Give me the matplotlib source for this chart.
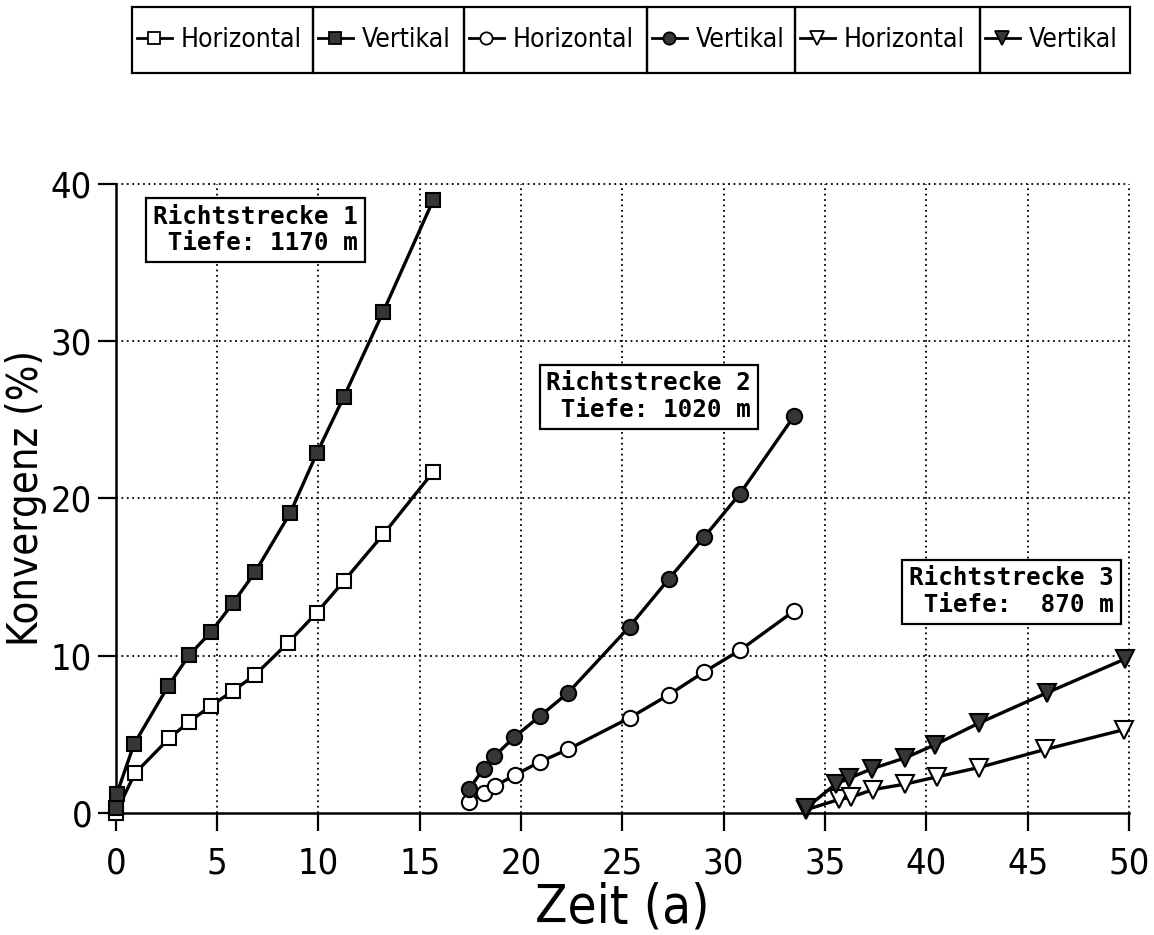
import os
import matplotlib
matplotlib.use("Agg")
import matplotlib.pyplot as plt
from matplotlib import font_manager as fm
from matplotlib.lines import Line2D
from matplotlib.patches import Rectangle

# ---------------- data ----------------
# Richtstrecke 1 (Tiefe 1170 m)
t1_vert = [0.0, 0.05, 0.90, 2.60, 3.63, 4.69, 5.80, 6.89, 8.60, 9.92, 11.26, 13.20, 15.67]
k1_vert = [0.3, 1.2, 4.36, 8.09, 10.04, 11.48, 13.36, 15.33, 19.04, 22.85, 26.45, 31.85, 38.95]
t1_hor = [0.0, 0.95, 2.64, 3.63, 4.69, 5.80, 6.87, 8.51, 9.92, 11.26, 13.20, 15.67]
k1_hor = [0.0, 2.52, 4.75, 5.80, 6.80, 7.77, 8.77, 10.82, 12.73, 14.74, 17.70, 21.68]

# Richtstrecke 2 (Tiefe 1020 m)
t2_vert = [17.45, 18.15, 18.68, 19.65, 20.93, 22.33, 25.36, 27.28, 29.05, 30.81, 33.49]
k2_vert = [1.55, 2.80, 3.60, 4.80, 6.15, 7.65, 11.85, 14.85, 17.55, 20.30, 25.25]
t2_hor = [17.45, 18.15, 18.70, 19.68, 20.93, 22.33, 25.36, 27.28, 29.02, 30.81, 33.49]
k2_hor = [0.70, 1.25, 1.70, 2.40, 3.25, 4.05, 6.05, 7.50, 8.95, 10.35, 12.85]

# Richtstrecke 3 (Tiefe 870 m)
t3_vert = [34.05, 35.53, 36.18, 37.33, 38.97, 40.45, 42.59, 45.95, 49.81]
k3_vert = [0.30, 1.84, 2.20, 2.82, 3.51, 4.35, 5.71, 7.64, 9.79]
t3_hor = [34.05, 35.69, 36.26, 37.38, 38.97, 40.53, 42.59, 45.87, 49.73]
k3_hor = [0.20, 0.86, 1.00, 1.49, 1.84, 2.30, 2.89, 4.04, 5.29]

legend_labels = ["Horizontal", "Vertikal", "Horizontal", "Vertikal", "Horizontal", "Vertikal"]
box_texts = ["Richtstrecke 1\n Tiefe: 1170 m",
             "Richtstrecke 2\n Tiefe: 1020 m",
             "Richtstrecke 3\n Tiefe:  870 m"]
box_pos = [(6.9, 37.05), (26.3, 26.45), (44.2, 14.05)]
x_ticks = [0, 5, 10, 15, 20, 25, 30, 35, 40, 45, 50]
y_ticks = [0, 10, 20, 30, 40]

# ---------------- fonts ----------------
narrow_path = None
for f in fm.fontManager.ttflist:
    fn = os.path.basename(f.fname).lower()
    if ("condensed" in fn or "narrow" in fn) and "mono" not in fn and "serif" not in fn:
        if not any(k in fn for k in ("bold", "italic", "oblique", "light", "black", "thin", "medium", "semi")):
            narrow_path = f.fname
            break

if narrow_path:
    fs_tick, fs_leg, fs_xlab, fs_ylab = 26, 19, 38, 30
else:
    fs_tick, fs_leg, fs_xlab, fs_ylab = 23, 17, 33, 27


def fp(size):
    if narrow_path:
        return fm.FontProperties(fname=narrow_path, size=size)
    return fm.FontProperties(family="DejaVu Sans", size=size)


W, H = 1154, 935
fig = plt.figure(figsize=(W / 100, H / 100), dpi=100)
ax_l, ax_r, ax_t, ax_b = 115.7, 1129, 183.5, 813
ax = fig.add_axes([ax_l / W, 1 - ax_b / H, (ax_r - ax_l) / W, (ax_b - ax_t) / H])

LW = 2.4
FILL = "#363636"
common = dict(color="black", lw=LW, mec="black", mew=1.5, clip_on=False, zorder=4)

series = [
    (t1_hor, k1_hor, "s", "white", 10),
    (t1_vert, k1_vert, "s", FILL, 10),
    (t2_hor, k2_hor, "o", "white", 11),
    (t2_vert, k2_vert, "o", FILL, 11),
    (t3_hor, k3_hor, "v", "white", 13),
    (t3_vert, k3_vert, "v", FILL, 13),
]
handles = []
for x, y, m, fc, ms in series:
    ax.plot(x, y, marker=m, mfc=fc, ms=ms, **common)
    handles.append(Line2D([], [], color="black", lw=2.0, marker=m, mfc=fc,
                          mec="black", mew=1.3, ms=ms * 0.8))

ax.set_xlim(0, 50)
ax.set_ylim(0, 40)
ax.set_xticks(x_ticks)
ax.set_yticks(y_ticks)
ax.tick_params(axis="both", direction="out", length=13, width=1.6)
ax.tick_params(axis="x", pad=11)
ax.tick_params(axis="y", pad=4)
for lab in ax.get_xticklabels() + ax.get_yticklabels():
    lab.set_fontproperties(fp(fs_tick))
for s in ["top", "right"]:
    ax.spines[s].set_visible(False)
for s in ["left", "bottom"]:
    ax.spines[s].set_linewidth(1.8)

for xv in x_ticks[1:]:
    ax.axvline(xv, color="black", lw=1.3, ls=(0, (1, 2)), zorder=1, clip_on=False)
for yv in y_ticks[1:]:
    ax.axhline(yv, color="black", lw=1.3, ls=(0, (1, 2)), zorder=1, clip_on=False)

ax.set_xlabel("Zeit (a)", fontproperties=fp(fs_xlab), labelpad=1)
ax.set_ylabel("Konvergenz (%)", fontproperties=fp(fs_ylab), labelpad=3)

for txt, (bx, by) in zip(box_texts, box_pos):
    ax.text(bx, by, txt, ha="center", va="center", family="DejaVu Sans Mono",
            fontweight="bold", fontsize=17.5, linespacing=1.15, zorder=6,
            bbox=dict(boxstyle="square,pad=0.28", fc="white", ec="black", lw=1.6))

# legend: six adjacent framed cells
bounds = [132, 313, 464, 647, 795, 980, 1130]
top_px, bot_px = 7, 73
for i, (h, lab) in enumerate(zip(handles, legend_labels)):
    x0 = bounds[i] / W
    w = (bounds[i + 1] - bounds[i]) / W
    y0 = 1 - bot_px / H
    hh = (bot_px - top_px) / H
    fig.add_artist(Rectangle((x0, y0), w, hh, transform=fig.transFigure,
                             fill=False, ec="black", lw=1.6))
    fig.legend([h], [lab], loc="center left", bbox_to_anchor=(x0, y0, w, hh),
               bbox_transform=fig.transFigure, borderaxespad=0, frameon=False,
               prop=fp(fs_leg), handlelength=1.3, handletextpad=0.35,
               borderpad=0.2)

fig.savefig("out.png", dpi=100)
